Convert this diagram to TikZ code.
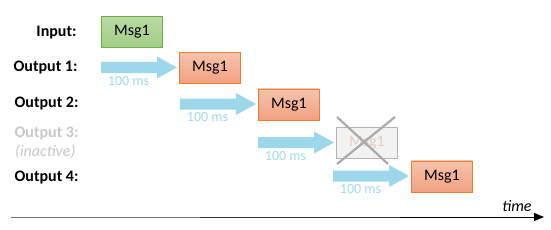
\documentclass[tikz,border=0pt]{standalone}
\usepackage{fontspec}
\setmainfont{Carlito}
\usetikzlibrary{arrows.meta}
\definecolor{arrowblue}{HTML}{9DD8EA}
\definecolor{lbl}{HTML}{A3D9EB}
\definecolor{gtop}{HTML}{B8DAA2}
\definecolor{gbot}{HTML}{A2CD86}
\definecolor{gbrd}{HTML}{70AD47}
\definecolor{otop}{HTML}{F6C3AC}
\definecolor{obot}{HTML}{F2A181}
\definecolor{obrd}{HTML}{ED7D31}
\definecolor{inact}{HTML}{C8C8C8}
\definecolor{ghosttxt}{HTML}{E3CDC2}
\begin{document}
\begin{tikzpicture}[x=1pt,y=-1pt,
  msg/.style={minimum width=61pt,minimum height=31pt,inner sep=0pt,font=\fontsize{16}{18}\selectfont},
  green/.style={msg,draw=gbrd,line width=0.8pt,top color=gtop,bottom color=gbot},
  orange/.style={msg,draw=obrd,line width=0.8pt,top color=otop,bottom color=obot},
  ghost/.style={msg,draw=inact!90!black,line width=0.8pt,fill=black!5,text=ghosttxt},
  rowlbl/.style={anchor=east,font=\fontsize{16}{18}\selectfont\bfseries},
  ms/.style={text=lbl,font=\fontsize{14}{16}\selectfont,inner sep=0pt},
  blue/.style={fill=arrowblue,draw=none}]
\useasboundingbox (0,0) rectangle (551,230);
% row labels
\node[rowlbl] (lin) at (80,33) {Input:};
\node[rowlbl] (lo1) at (81,68) {Output 1:};
\node[rowlbl] (lo2) at (82,104) {Output 2:};
\node[rowlbl,text=inact] (lo3) at (82,134) {Output 3:};
\node[anchor=west,text=inact,font=\fontsize{16}{18}\selectfont\itshape,inner sep=0pt] (lina) at (15,152) {(inactive)};
\node[rowlbl] (lo4) at (82,178) {Output 4:};
% boxes
\node[green,anchor=north west] (b0) at (101,16) {Msg1};
\node[orange,anchor=north west] (b1) at (179,52) {Msg1};
\node[orange,anchor=north west] (b2) at (258,88.5) {Msg1};
\node[ghost,anchor=north west] (b3) at (336,126.5) {Msg1};
\node[orange,anchor=north west] (b4) at (411,160.5) {Msg1};
% arrows
\foreach \sx/\cy/\nm in {101/67.5/a1,180/104/a2,258/142.5/a3,333/176/a4}{
  \fill[blue] (\sx,\cy-5.5) -- (\sx+56,\cy-5.5) -- (\sx+56,\cy-11) -- (\sx+76,\cy) -- (\sx+56,\cy+11) -- (\sx+56,\cy+5.5) -- (\sx,\cy+5.5) -- cycle;
  \node[ms] (\nm) at (\sx+27.5,\cy+13.5) {100 ms};
}
% cross
\draw[inact!85!black,line width=2.2pt] (337,117) -- (388,164);
\draw[inact!85!black,line width=2.2pt] (395,117) -- (337,164);
% time axis
\coordinate (t0) at (11,217);
\coordinate (t1) at (544,217);
\draw[black!55,line width=1pt] (t0) -- (200,217);
\draw[black!80,line width=1pt] (200,217) -- (400,217);
\draw[black,line width=1pt,-{Triangle[length=10pt,width=8pt]}] (400,217) -- (t1);
\node[font=\fontsize{16}{18}\selectfont\itshape,inner sep=0pt] (time) at (517,206) {time};
\end{tikzpicture}
\end{document}
